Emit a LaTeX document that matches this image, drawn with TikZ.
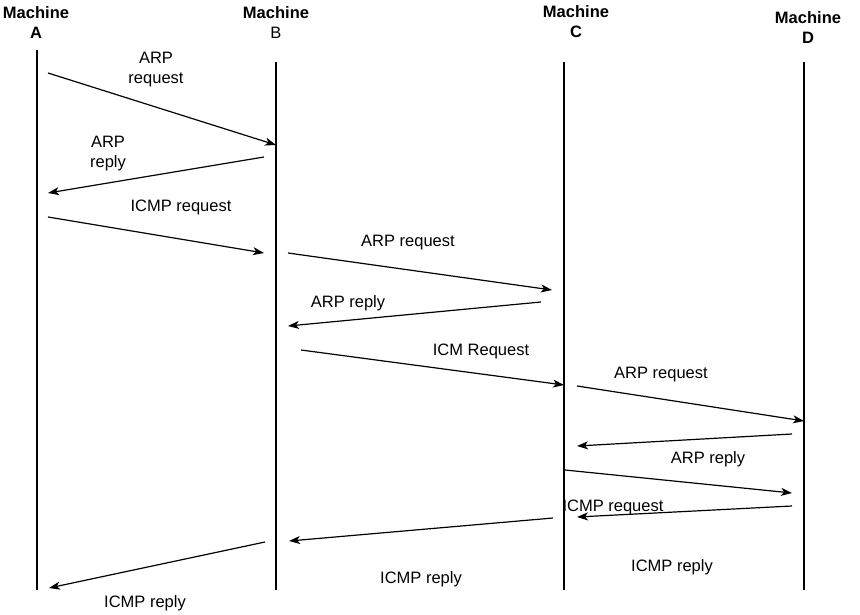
\documentclass[tikz,border=0pt]{standalone}
\usepackage{fontspec}
\setmainfont{Liberation Sans}
\usetikzlibrary{arrows.meta}
\begin{document}
\begin{tikzpicture}[x=1pt,y=-1pt,
  txt/.style={font=\fontsize{16.5}{20}\selectfont, inner sep=0pt, align=center, yshift=-2pt},
  head/.style={txt, font=\fontsize{16.5}{20}\selectfont\bfseries},
  life/.style={line width=1.2pt},
  msg/.style={line width=1.2pt, -{Stealth[length=11pt,width=8pt,inset=3pt]}},
  lbl/.style={txt, text=black}]
\useasboundingbox (0,0) rectangle (860,615);
% headers
\node[head] (hA) at (36,21) {Machine\\A};
\node[txt] (hB) at (276,21) {\textbf{Machine}\\B};
\node[head] (hC) at (576,20) {Machine\\C};
\node[head] (hD) at (808,26) {Machine\\D};
% lifelines
\coordinate (At) at (37,50);  \coordinate (Ab) at (37,590);
\coordinate (Bt) at (276,62); \coordinate (Bb) at (276,590);
\coordinate (Ct) at (564,62); \coordinate (Cb) at (564,590);
\coordinate (Dt) at (804,62); \coordinate (Db) at (804,590);
\draw[life] (At) -- (Ab);
\draw[life] (Bt) -- (Bb);
\draw[life] (Ct) -- (Cb);
\draw[life] (Dt) -- (Db);
% message end points
\coordinate (m1s) at (48,73);   \coordinate (m1e) at (276,145);
\coordinate (m2s) at (264,157); \coordinate (m2e) at (48,193);
\coordinate (m3s) at (48,217);  \coordinate (m3e) at (264,253);
\coordinate (m4s) at (288,253); \coordinate (m4e) at (552,290);
\coordinate (m5s) at (541,302); \coordinate (m5e) at (288,326);
\coordinate (m6s) at (301,350); \coordinate (m6e) at (564,385);
\coordinate (m7s) at (577,386); \coordinate (m7e) at (804,421);
\coordinate (m8s) at (792,434); \coordinate (m8e) at (577,446);
\coordinate (m9s) at (565,470); \coordinate (m9e) at (792,493);
\coordinate (m10s) at (792,506); \coordinate (m10e) at (577,517);
\coordinate (m11s) at (553,518); \coordinate (m11e) at (289,541);
\coordinate (m12s) at (265,542); \coordinate (m12e) at (49,588);
\foreach \i in {1,...,12} {\draw[msg] (m\i s) -- (m\i e);}
% labels
\node[lbl] (l1) at (156,68) {ARP\\request};
\node[lbl] (l2) at (108,152) {ARP\\reply};
\node[lbl] (l3) at (181,205) {ICMP request};
\node[lbl] (l4) at (408,241) {ARP request};
\node[lbl] (l5) at (348,301) {ARP reply};
\node[lbl] (l6) at (481,349) {ICM Request};
\node[lbl] (l7) at (661,373) {ARP request};
\node[lbl] (l8) at (708,457) {ARP reply};
\node[lbl] (l9) at (613,505) {ICMP request};
\node[lbl] (l10) at (421,577) {ICMP reply};
\node[lbl] (l11) at (672,565) {ICMP reply};
\node[lbl] (l12) at (145,601) {ICMP reply};
\end{tikzpicture}
\end{document}
